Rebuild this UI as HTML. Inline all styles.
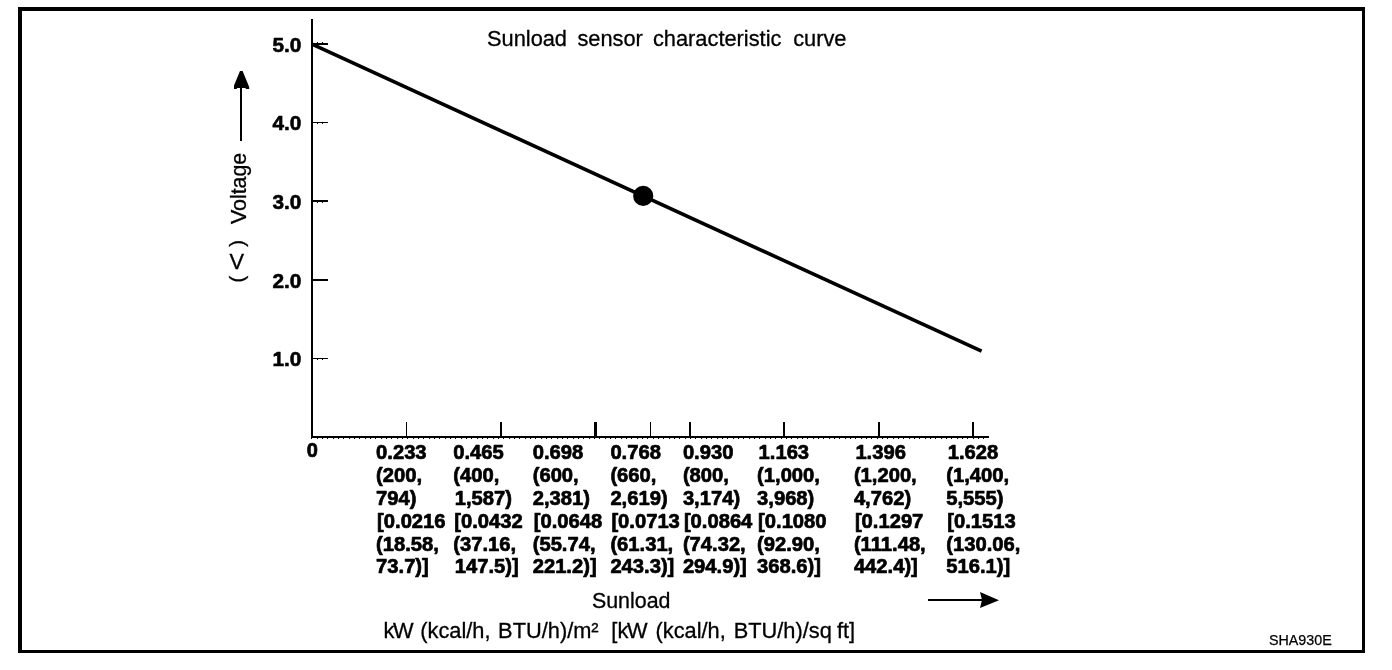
<!DOCTYPE html>
<html lang="en"><head><meta charset="utf-8"><title>Sunload sensor characteristic curve</title>
<style>
html,body{margin:0;padding:0;background:#fff;}
body{width:1392px;height:670px;overflow:hidden;}
svg{display:block;position:absolute;left:0;top:0;}
text{font-family:"Liberation Sans", Arial, Helvetica, sans-serif;fill:#000;}
.b{font-weight:bold;font-size:20.2px;stroke:#000;stroke-width:0.7px;stroke-linejoin:round;}
.yb{font-size:20.8px;stroke-width:0.6px;}
.r{font-size:21.8px;stroke:#000;stroke-width:0.3px;}
</style></head><body>
<svg width="1392" height="670" viewBox="0 0 1392 670">
<rect x="0" y="0" width="1392" height="670" fill="#fff"/>
<!-- frame -->
<path d="M18 7H1365V653H18Z M22 11V650H1362V11Z" fill="#000" fill-rule="evenodd"/>
<!-- axes -->
<rect x="311" y="19" width="2" height="419" fill="#000"/>
<rect x="311" y="436" width="678" height="2" fill="#000"/>
<line x1="311" y1="438.5" x2="989" y2="438.5" stroke="#000" stroke-width="1" stroke-dasharray="1 5 1 4 1 4" shape-rendering="crispEdges"/>
<rect x="313" y="43" width="15" height="2" fill="#000"/>
<rect x="317" y="42" width="1" height="1" fill="#000"/><rect x="322" y="42" width="1" height="1" fill="#000"/>
<rect x="313" y="122" width="15" height="1" fill="#000"/>
<rect x="317" y="123" width="1" height="1" fill="#000"/><rect x="322" y="123" width="1" height="1" fill="#000"/>
<rect x="313" y="200" width="15" height="2" fill="#000"/>
<rect x="317" y="202" width="1" height="1" fill="#000"/><rect x="322" y="202" width="1" height="1" fill="#000"/>
<rect x="313" y="279" width="15" height="2" fill="#000"/>
<rect x="313" y="358" width="15" height="1" fill="#000"/>
<rect x="317" y="359" width="1" height="1" fill="#000"/><rect x="322" y="359" width="1" height="1" fill="#000"/>
<rect x="406" y="422" width="1" height="14" fill="#000"/>
<rect x="500" y="422" width="2" height="14" fill="#000"/>
<rect x="594" y="422" width="3" height="14" fill="#000"/>
<rect x="650" y="422" width="1" height="14" fill="#000"/>
<rect x="689" y="422" width="2" height="14" fill="#000"/>
<rect x="783" y="422" width="2" height="14" fill="#000"/>
<rect x="878" y="422" width="2" height="14" fill="#000"/>
<rect x="972" y="422" width="2" height="14" fill="#000"/>
<line x1="312" y1="44.2" x2="981.6" y2="351.2" stroke="#000" stroke-width="3.6"/>
<circle cx="643.2" cy="195.9" r="10.1" fill="#000"/>
<text class="b yb" x="272.46" y="52.4">5.0</text>
<text class="b yb" x="272.46" y="130.4">4.0</text>
<text class="b yb" x="272.46" y="209.4">3.0</text>
<text class="b yb" x="272.46" y="288.4">2.0</text>
<text class="b yb" x="272.46" y="366.4">1.0</text>
<text class="r" y="46.0"><tspan x="487.01">Sunload</tspan> <tspan x="577.39">sensor</tspan> <tspan x="652.97">characteristic</tspan> <tspan x="793.17">curve</tspan></text>
<text class="r" style="font-size:21.4px" transform="translate(246.2,224.1) rotate(-90)">Voltage</text>
<text class="r" style="font-size:20.5px" transform="translate(233,243.4) rotate(90)" text-anchor="middle" x="0" y="0">(</text>
<text class="r" x="236.7" y="268.8" text-anchor="middle">V</text>
<text class="r" style="font-size:20.5px" transform="translate(233,243.4) rotate(90)" text-anchor="middle" x="35.8" y="0">)</text>
<rect x="240" y="88" width="2" height="53" fill="#000"/>
<path d="M240 71L242.6 71L249.2 87L249.2 89L246 89L245.4 88L237.2 88L236.6 89L234 89L234 85.5Z" fill="#000"/>
<text class="b" style="font-size:20px" x="306.81" y="457.0">0</text>
<text class="b" x="376.09" y="459.4">0.233</text>
<text class="b" x="376.09" y="482.2">(200,</text>
<text class="b" x="376.09" y="505.0">794)</text>
<text class="b" x="377.09" y="527.8">[0.0216</text>
<text class="b" x="376.09" y="550.6">(18.58,</text>
<text class="b" x="376.09" y="573.4">73.7)]</text>
<text class="b" x="453.29" y="459.4">0.465</text>
<text class="b" x="453.29" y="482.2">(400,</text>
<text class="b" x="454.79" y="505.0">1,587)</text>
<text class="b" x="454.29" y="527.8">[0.0432</text>
<text class="b" x="453.29" y="550.6">(37.16,</text>
<text class="b" x="454.79" y="573.4">147.5)]</text>
<text class="b" x="532.69" y="459.4">0.698</text>
<text class="b" x="532.69" y="482.2">(600,</text>
<text class="b" x="532.69" y="505.0">2,381)</text>
<text class="b" x="533.69" y="527.8">[0.0648</text>
<text class="b" x="532.69" y="550.6">(55.74,</text>
<text class="b" x="532.69" y="573.4">221.2)]</text>
<text class="b" x="610.39" y="459.4">0.768</text>
<text class="b" x="610.39" y="482.2">(660,</text>
<text class="b" x="610.39" y="505.0">2,619)</text>
<text class="b" x="611.39" y="527.8">[0.0713</text>
<text class="b" x="610.39" y="550.6">(61.31,</text>
<text class="b" x="610.39" y="573.4">243.3)]</text>
<text class="b" x="682.89" y="459.4">0.930</text>
<text class="b" x="682.89" y="482.2">(800,</text>
<text class="b" x="682.89" y="505.0">3,174)</text>
<text class="b" x="683.89" y="527.8">[0.0864</text>
<text class="b" x="682.89" y="550.6">(74.32,</text>
<text class="b" x="682.89" y="573.4">294.9)]</text>
<text class="b" x="758.59" y="459.4">1.163</text>
<text class="b" x="757.09" y="482.2">(1,000,</text>
<text class="b" x="757.09" y="505.0">3,968)</text>
<text class="b" x="758.09" y="527.8">[0.1080</text>
<text class="b" x="757.09" y="550.6">(92.90,</text>
<text class="b" x="757.09" y="573.4">368.6)]</text>
<text class="b" x="855.39" y="459.4">1.396</text>
<text class="b" x="853.89" y="482.2">(1,200,</text>
<text class="b" x="853.89" y="505.0">4,762)</text>
<text class="b" x="854.89" y="527.8">[0.1297</text>
<text class="b" x="853.89" y="550.6">(111.48,</text>
<text class="b" x="853.89" y="573.4">442.4)]</text>
<text class="b" x="947.79" y="459.4">1.628</text>
<text class="b" x="946.29" y="482.2">(1,400,</text>
<text class="b" x="946.29" y="505.0">5,555)</text>
<text class="b" x="947.29" y="527.8">[0.1513</text>
<text class="b" x="946.29" y="550.6">(130.06,</text>
<text class="b" x="946.29" y="573.4">516.1)]</text>
<text class="r" style="font-size:21.4px" x="591.93" y="607.5">Sunload</text>
<text class="r" y="637.8"><tspan x="383.43" dx="0 -1.3">kW</tspan> <tspan x="420.25">(kcal/h,</tspan> <tspan x="498.11">BTU/h)/m²</tspan> <tspan x="611.35" dx="0 0 -1.3">[kW</tspan> <tspan x="655.55">(kcal/h,</tspan> <tspan x="733.71">BTU/h)/sq</tspan> <tspan x="836.99">ft]</tspan></text>
<rect x="928" y="599" width="54" height="2" fill="#000"/>
<path d="M980 592L999 600.2L980 608L982 600Z" fill="#000"/>
<text x="1268.95" y="645.3" style="font-size:14.3px;stroke:#000;stroke-width:0.25px">SHA930E</text>
</svg>
</body></html>
